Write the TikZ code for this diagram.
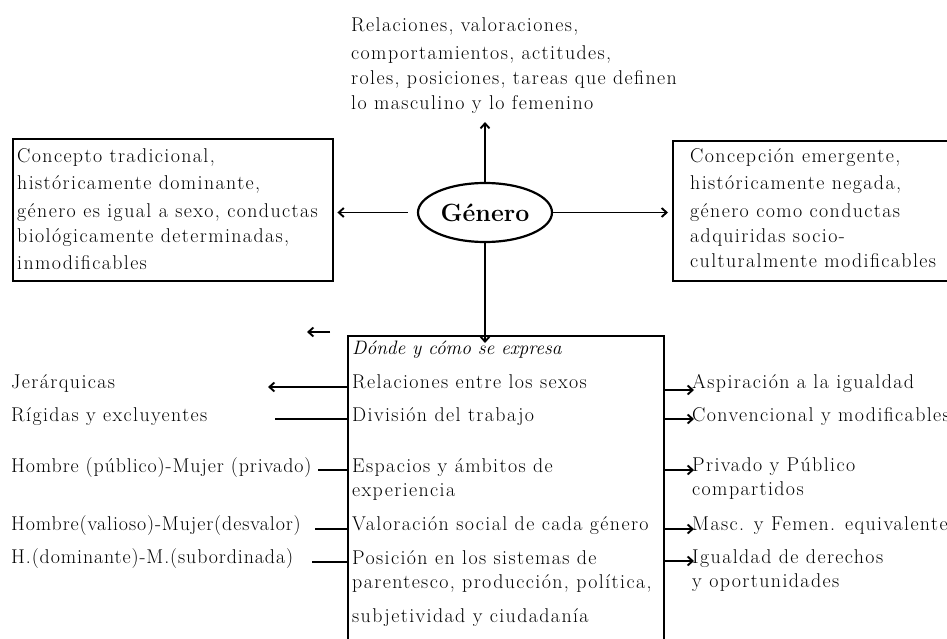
\documentclass[tikz,border=0pt]{standalone}
\usepackage{fontspec}
\setmainfont{Latin Modern Roman}[LetterSpace=7]
\newfontfamily\plainlm{Latin Modern Roman}
\usetikzlibrary{arrows.meta,shapes.geometric}
\tikzset{
  txt/.style={inner sep=0pt, align=left, font=\fontsize{20}{25}\selectfont},
  tighttxt/.style={txt, font=\fontsize{20}{25}\selectfont\addfontfeature{LetterSpace=4.5}},
  boxframe/.style={draw, line width=2.4bp, inner sep=0pt},
  conn/.style={line width=1.9bp},
  arr/.style={conn, -{Straight Barb[length=5bp,width=9bp]}},
}
\begin{document}
\begin{tikzpicture}[x=1bp,y=-1bp]
\useasboundingbox (0,0) rectangle (947,639);

% central ellipse
\node[draw, ellipse, line width=2.2bp, minimum width=134bp, minimum height=59bp, inner sep=0pt,
      font=\plainlm\fontsize{25}{28}\selectfont\bfseries] (gen) at (485,212.5) {Género};

% top text
\node[txt, anchor=north west] (top) at (351,17)
  {Relaciones, valoraciones,\\[4bp]
   comportamientos, actitudes,\\
   roles, posiciones, tareas que definen\\
   lo masculino y lo femenino};
\coordinate (toptip) at (485,122);

% left box
\node[boxframe, anchor=north west, minimum width=320bp, minimum height=142bp] (lbox) at (12,138) {};
\node[txt, anchor=north west] (ltext) at (17,148)
  {Concepto tradicional,\\[2bp]
   históricamente dominante,\\[4bp]
   género es igual a sexo, conductas\\
   biológicamente determinadas,\\[2bp]
   inmodificables};

% right box (runs off the right edge)
\node[boxframe, anchor=north west, minimum width=300bp, minimum height=140bp] (rbox) at (672,140) {};
\node[txt, anchor=north west] (rtext) at (690,148)
  {Concepción emergente,\\[2bp]
   históricamente negada,\\[4bp]
   género como conductas\\
   adquiridas socio-\\
   culturalmente modificables};

% bottom box (runs off the bottom edge)
\node[boxframe, anchor=north west, minimum width=316bp, minimum height=340bp] (bbox) at (347,335) {};
\node[txt, anchor=base west, font=\plainlm\fontsize{19.5}{25}\selectfont\itshape] (r0) at (352,354) {Dónde y cómo se expresa};
\node[txt, anchor=base west] (r1) at (352,388) {Relaciones entre los sexos};
\node[txt, anchor=base west] (r2) at (352,421) {División del trabajo};
\node[txt, anchor=north west] (r3) at (352,458) {Espacios y ámbitos de\\experiencia};
\node[txt, anchor=base west] (r4) at (352,530) {Valoración social de cada género};
\node[txt, anchor=north west] (r5) at (352,550) {Posición en los sistemas de\\parentesco, producción, política,\\[9bp]subjetividad y ciudadanía};

% left labels
\node[txt, anchor=base west] (l1) at (11,388) {Jerárquicas};
\node[txt, anchor=base west] (l2) at (11,421) {Rígidas y excluyentes};
\node[tighttxt, anchor=base west] (l3) at (11,472) {Hombre (público)-Mujer (privado)};
\node[tighttxt, anchor=base west] (l4) at (11,530) {Hombre(valioso)-Mujer(desvalor)};
\node[tighttxt, anchor=base west] (l5) at (11,563) {H.(dominante)-M.(subordinada)};

% right labels
\node[txt, anchor=base west] (q1) at (692,388) {Aspiración a la igualdad};
\node[txt, anchor=base west] (q2) at (692,421) {Convencional y modificables};
\node[txt, anchor=north west] (q3) at (692,457) {Privado y Público\\compartidos};
\node[txt, anchor=base west] (q4) at (692,530) {Masc. y Femen. equivalentes};
\node[txt, anchor=north west] (q5) at (692,549) {Igualdad de derechos\\y oportunidades};

% arrows from the ellipse
\draw[arr] (gen.north) -- (gen.north |- toptip);
\draw[arr] ([xshift=-9bp]gen.west) -- ([xshift=3bp]lbox.east |- gen.west);
\draw[arr] (gen.east) -- ([xshift=-4bp]rbox.west |- gen.east);
\draw[arr] (gen.south) -- ([yshift=-8bp]bbox.north -| gen.south);

% stray small arrow
\coordinate (sa1) at (330,332);
\coordinate (sa2) at (307,332);
\draw[arr] (sa1) -- (sa2);

% left connectors
\coordinate (e1) at (268,387);
\coordinate (e2) at (275,419);
\coordinate (e3) at (318,470);
\coordinate (e4) at (315,529);
\coordinate (e5) at (312,562);
\draw[arr] (e1 -| bbox.west) -- (e1);
\draw[conn] (e2 -| bbox.west) -- (e2);
\draw[conn] (e3 -| bbox.west) -- (e3);
\draw[conn] (e4 -| bbox.west) -- (e4);
\draw[conn] (e5 -| bbox.west) -- (e5);

% right connectors
\coordinate (f1) at (694,390);
\coordinate (f2) at (694,419);
\coordinate (f3) at (694,470);
\coordinate (f4) at (694,529);
\coordinate (f5) at (694,561);
\draw[arr] (f1 -| bbox.east) -- (f1);
\draw[arr] (f2 -| bbox.east) -- (f2);
\draw[arr] (f3 -| bbox.east) -- (f3);
\draw[arr] (f4 -| bbox.east) -- (f4);
\draw[arr] (f5 -| bbox.east) -- (f5);
\end{tikzpicture}
\end{document}
